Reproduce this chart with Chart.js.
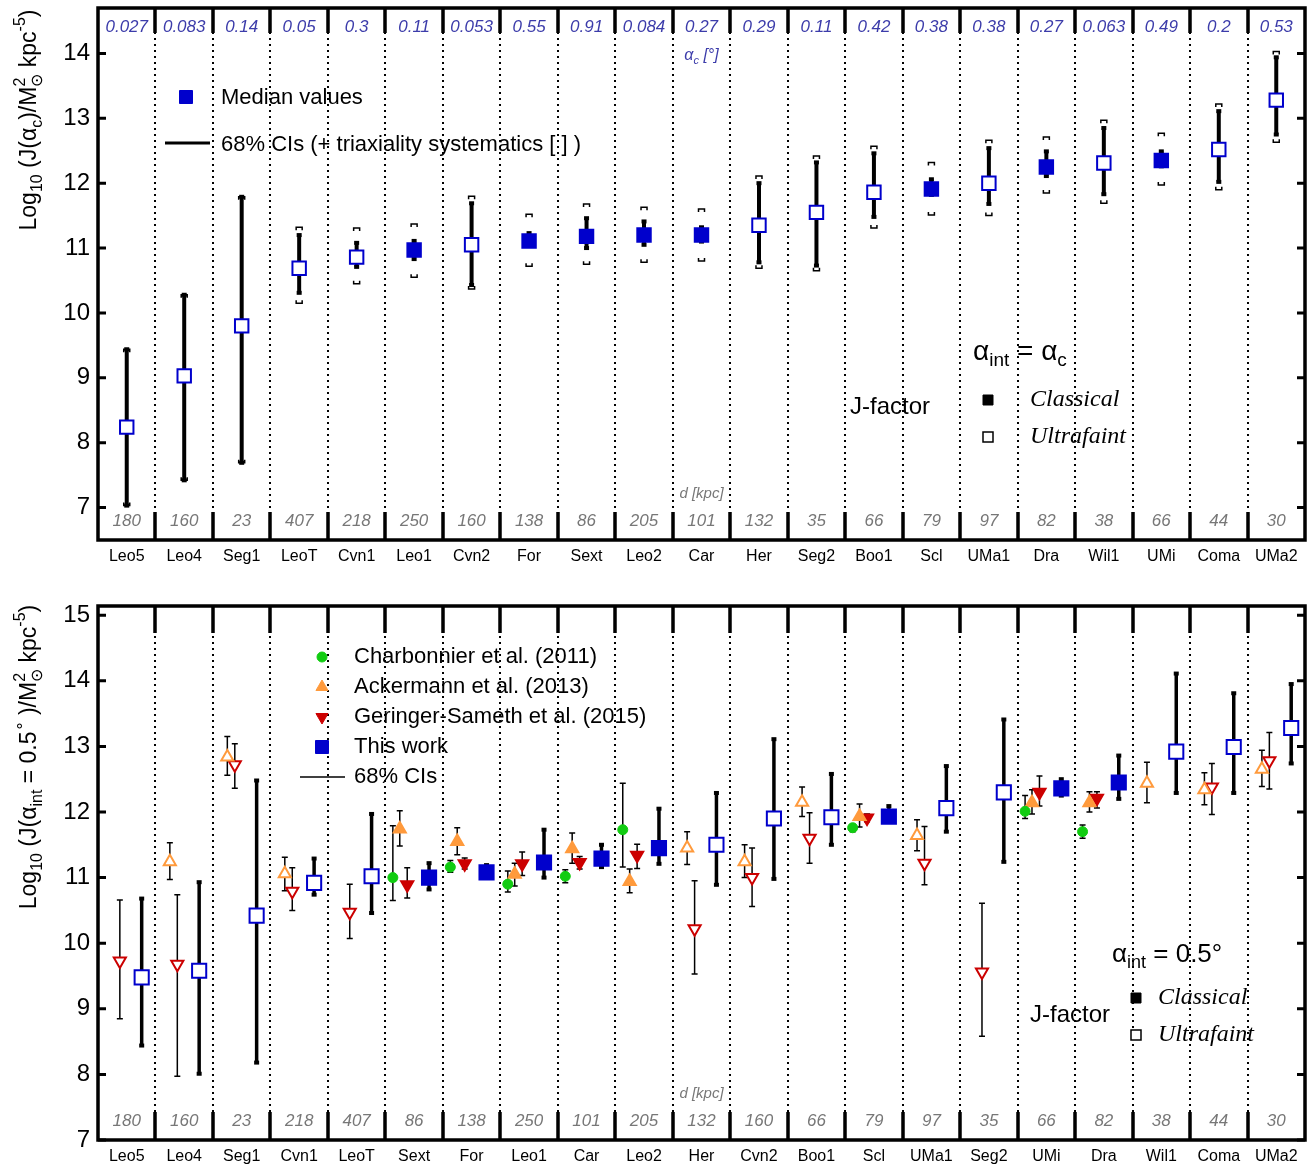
<!DOCTYPE html>
<html>
<head>
<meta charset="utf-8">
<script src="https://cdn.jsdelivr.net/npm/chart.js@4.4.1/dist/chart.umd.min.js"></script>
<style>
  body { margin: 0; background: #fff; }
  #wrap { position: relative; width: 1312px; height: 1165px; }
  canvas { position: absolute; left: 0; }
  #topChart { top: 0; }
  #botChart { top: 580px; }
</style>
</head>
<body>
<div id="wrap">
  <canvas id="topChart" width="1312" height="580"></canvas>
  <canvas id="botChart" width="1312" height="585"></canvas>
</div>
<script>
// ---------- data: upper panel (alpha_int = alpha_c) ----------
var topNames = ['Leo5','Leo4','Seg1','LeoT','Cvn1','Leo1','Cvn2','For','Sext','Leo2','Car','Her','Seg2','Boo1','Scl','UMa1','Dra','Wil1','UMi','Coma','UMa2'];
var alphaC   = ['0.027','0.083','0.14','0.05','0.3','0.11','0.053','0.55','0.91','0.084','0.27','0.29','0.11','0.42','0.38','0.38','0.27','0.063','0.49','0.2','0.53'];
var topDist  = [180,160,23,407,218,250,160,138,86,205,101,132,35,66,79,97,82,38,66,44,30];
var topMed   = [8.24, 9.03, 9.80, 10.69, 10.86, 10.97, 11.05, 11.11, 11.18, 11.20, 11.20, 11.35, 11.55, 11.86, 11.91, 12.00, 12.25, 12.31, 12.35, 12.52, 13.28];
var topLo    = [7.03, 7.42, 7.69, 10.31, 10.71, 10.83, 10.43, 11.05, 11.00, 11.05, 11.10, 10.78, 10.73, 11.48, 11.82, 11.68, 12.11, 11.83, 12.26, 12.02, 12.75];
var topHi    = [9.44, 10.28, 11.79, 11.20, 11.08, 11.11, 11.69, 11.23, 11.46, 11.41, 11.32, 12.00, 12.32, 12.46, 12.06, 12.54, 12.49, 12.85, 12.49, 13.11, 13.94];
var sysLo    = [7.03, 7.42, 7.69, 10.15, 10.45, 10.55, 10.37, 10.72, 10.75, 10.78, 10.80, 10.69, 10.65, 11.31, 11.51, 11.50, 11.85, 11.69, 11.97, 11.90, 12.63];
var sysHi    = [9.44, 10.28, 11.79, 11.32, 11.31, 11.37, 11.80, 11.52, 11.68, 11.63, 11.60, 12.11, 12.42, 12.57, 12.32, 12.66, 12.71, 12.97, 12.77, 13.22, 14.03];

// ---------- data: lower panel (alpha_int = 0.5 deg) ----------
var botNames = ['Leo5','Leo4','Seg1','Cvn1','LeoT','Sext','For','Leo1','Car','Leo2','Her','Cvn2','Boo1','Scl','UMa1','Seg2','UMi','Dra','Wil1','Coma','UMa2'];
var botDist  = [180,160,23,218,407,86,138,250,101,205,132,160,66,79,97,35,66,82,38,44,30];

var charbMed = [null, null, null, null, null, 11.00, 11.16, 10.90, 11.02, 11.73, null, null, null, 11.76, null, null, 12.01, 11.70, null, null, null];
var charbLo  = [null, null, null, null, null, 10.65, 11.08, 10.78, 10.92, 11.16, null, null, null, 11.70, null, null, 11.90, 11.60, null, null, null];
var charbHi  = [null, null, null, null, null, 11.79, 11.26, 11.10, 11.12, 12.44, null, null, null, 11.81, null, null, 12.25, 11.80, null, null, null];

var ackMed = [null, 11.24, 12.84, 11.06, null, 11.74, 11.55, 11.05, 11.44, 10.94, 11.45, 11.24, 12.15, 11.93, 11.64, null, 12.14, 12.14, 12.44, 12.34, 12.65];
var ackLo  = [null, 10.97, 12.56, 10.80, null, 11.48, 11.35, 10.87, 11.22, 10.77, 11.20, 11.00, 11.93, 11.77, 11.41, null, 11.97, 12.00, 12.14, 12.11, 12.39];
var ackHi  = [null, 11.53, 13.15, 11.31, null, 12.02, 11.76, 11.22, 11.68, 11.13, 11.70, 11.50, 12.38, 12.12, 11.88, null, 12.34, 12.31, 12.76, 12.60, 12.94];

var gsMed = [9.73, 9.68, 12.72, 10.79, 10.47, 10.89, 11.21, 11.21, 11.23, 11.34, 10.22, 11.00, 11.60, 11.91, 11.22, 9.56, 12.30, 12.21, null, 12.38, 12.78];
var gsLo  = [8.85, 7.97, 12.36, 10.50, 10.07, 10.69, 11.13, 11.03, 11.13, 11.14, 9.53, 10.56, 11.22, 11.85, 10.89, 8.58, 12.09, 12.06, null, 11.96, 12.35];
var gsHi  = [10.66, 10.74, 13.04, 11.15, 10.90, 11.15, 11.30, 11.39, 11.32, 11.51, 10.95, 11.45, 11.99, 11.97, 11.78, 10.61, 12.55, 12.31, null, 12.74, 13.21];

var twMed = [9.48, 9.58, 10.42, 10.92, 11.02, 11.00, 11.08, 11.23, 11.29, 11.45, 11.50, 11.90, 11.92, 11.93, 12.06, 12.30, 12.36, 12.45, 12.92, 12.99, 13.28];
var twLo  = [8.44, 8.01, 8.18, 10.74, 10.46, 10.82, 11.00, 11.00, 11.16, 11.21, 10.89, 10.98, 11.50, 11.87, 11.70, 11.24, 12.25, 12.20, 12.29, 12.29, 12.74];
var twHi  = [10.68, 10.93, 12.48, 11.29, 11.97, 11.22, 11.19, 11.73, 11.50, 12.05, 12.29, 13.11, 12.58, 12.09, 12.70, 13.41, 12.50, 12.86, 14.11, 13.81, 13.95];

var classical = ['Leo1','For','Sext','Leo2','Car','Scl','Dra','UMi'];
var topYTicks = [7, 8, 9, 10, 11, 12, 13, 14];
var botYTicks = [7, 8, 9, 10, 11, 12, 13, 14, 15];

var BLUE = '#0000cc', GREEN = '#11cc11', ORANGE = '#ff9a3c', RED = '#cc0000';
var SANS = '"Liberation Sans", Arial, sans-serif';
var SERIF = '"Liberation Serif", "Times New Roman", serif';

// build scatter points, dodged inside each galaxy column
function buildPoints(names, med, lo, hi, off, sLo, sHi) {
    var out = [];
    for (var i = 0; i < med.length; i++) {
        if (med[i] == null) continue;
        out.push({
            x: i + off, y: med[i], lo: lo[i], hi: hi[i],
            slo: sLo ? sLo[i] : null, shi: sHi ? sHi[i] : null,
            cls: classical.indexOf(names[i]) >= 0
        });
    }
    return out;
}

function fillFor(color) {
    return function (c) { return c.raw && c.raw.cls ? color : '#ffffff'; };
}

// text with sub / superscripts: parts = [[text, kind]] kind '', 'sub', 'sup', 'supk' (no advance)
function richWidth(ctx, parts, size, family, style) {
    var w = 0;
    parts.forEach(function (p) {
        ctx.font = (style || '') + ' ' + (p[1] ? Math.round(size * 0.68) : size) + 'px ' + family;
        if (p[1] !== 'supk') w += ctx.measureText(p[0]).width;
    });
    return w;
}
function drawRich(ctx, parts, x, y, size, family, style) {
    var cx = x;
    parts.forEach(function (p) {
        var k = p[1];
        ctx.font = (style || '') + ' ' + (k ? Math.round(size * 0.68) : size) + 'px ' + family;
        var dy = k === 'sub' ? size * 0.32 : (k === 'sup' || k === 'supk' ? -size * 0.42 : 0);
        ctx.fillText(p[0], cx, y + dy);
        if (k !== 'supk') cx += ctx.measureText(p[0]).width;
    });
}

function marker(ctx, style, x, y, r, fill, stroke, lw) {
    ctx.save();
    ctx.fillStyle = fill; ctx.strokeStyle = stroke; ctx.lineWidth = lw;
    ctx.beginPath();
    if (style === 'rect') {
        ctx.rect(x - r, y - r, 2 * r, 2 * r);
    } else if (style === 'circle') {
        ctx.arc(x, y, r, 0, Math.PI * 2);
    } else if (style === 'up') {
        ctx.moveTo(x, y - r); ctx.lineTo(x + r * 0.866, y + r * 0.5); ctx.lineTo(x - r * 0.866, y + r * 0.5); ctx.closePath();
    } else {
        ctx.moveTo(x, y + r); ctx.lineTo(x + r * 0.866, y - r * 0.5); ctx.lineTo(x - r * 0.866, y - r * 0.5); ctx.closePath();
    }
    ctx.fill(); ctx.stroke();
    ctx.restore();
}

// error bars (and triaxiality brackets) drawn behind the markers
var errorBars = {
    id: 'errorBars',
    beforeDatasetsDraw: function (chart) {
        var ctx = chart.ctx, yS = chart.scales.y;
        chart.data.datasets.forEach(function (ds, di) {
            var st = ds.errStyle;
            if (!st) return;
            var meta = chart.getDatasetMeta(di);
            ctx.save();
            ctx.strokeStyle = '#000'; ctx.fillStyle = '#000';
            meta.data.forEach(function (el, i) {
                var p = ds.data[i], x = el.x;
                if (p.lo != null) {
                    var yl = yS.getPixelForValue(p.lo), yh = yS.getPixelForValue(p.hi);
                    ctx.lineWidth = st.width;
                    ctx.beginPath(); ctx.moveTo(x, yl); ctx.lineTo(x, yh); ctx.stroke();
                    if (st.thick) {
                        ctx.fillRect(x - st.cap, yl - 2, 2 * st.cap, 4);
                        ctx.fillRect(x - st.cap, yh - 2, 2 * st.cap, 4);
                    } else {
                        ctx.lineWidth = 1.5;
                        ctx.beginPath();
                        ctx.moveTo(x - st.cap, yl); ctx.lineTo(x + st.cap, yl);
                        ctx.moveTo(x - st.cap, yh); ctx.lineTo(x + st.cap, yh);
                        ctx.stroke();
                    }
                }
                if (p.slo != null) {
                    var bl = yS.getPixelForValue(p.slo), bh = yS.getPixelForValue(p.shi);
                    ctx.lineWidth = 1.5;
                    ctx.beginPath();
                    ctx.moveTo(x - 3, bh + 3); ctx.lineTo(x - 3, bh); ctx.lineTo(x + 3, bh); ctx.lineTo(x + 3, bh + 3);
                    ctx.moveTo(x - 3, bl - 3); ctx.lineTo(x - 3, bl); ctx.lineTo(x + 3, bl); ctx.lineTo(x + 3, bl - 3);
                    ctx.stroke();
                }
            });
            ctx.restore();
        });
    }
};

// column separators, inner ticks, per-column labels and frame
var frame = {
    id: 'frame',
    beforeDatasetsDraw: function (chart, args, o) {
        var ctx = chart.ctx, a = chart.chartArea, xS = chart.scales.x, yS = chart.scales.y;
        var n = o.n;
        ctx.save();
        ctx.strokeStyle = '#000';
        ctx.lineWidth = 2;
        ctx.setLineDash([2, 4]);
        for (var i = 0; i < n - 1; i++) {
            var px = Math.round(xS.getPixelForValue(i + 0.5));
            ctx.beginPath(); ctx.moveTo(px, a.top); ctx.lineTo(px, a.bottom); ctx.stroke();
        }
        ctx.setLineDash([]);
        ctx.lineWidth = 3.5;
        for (var j = 0; j < n - 1; j++) {
            var qx = Math.round(xS.getPixelForValue(j + 0.5));
            ctx.beginPath();
            ctx.moveTo(qx, a.top); ctx.lineTo(qx, a.top + o.tickTop);
            ctx.moveTo(qx, a.bottom - o.tickBot); ctx.lineTo(qx, a.bottom);
            ctx.stroke();
        }
        ctx.lineWidth = 3;
        o.yTicks.forEach(function (v) {
            var py = yS.getPixelForValue(v);
            ctx.beginPath();
            ctx.moveTo(a.left, py); ctx.lineTo(a.left + 8, py);
            ctx.moveTo(a.right - 8, py); ctx.lineTo(a.right, py);
            ctx.stroke();
        });
        ctx.textAlign = 'center'; ctx.textBaseline = 'middle';
        if (o.topLabels) {
            ctx.fillStyle = '#3c3caa';
            ctx.font = 'italic 17px ' + SANS;
            o.topLabels.forEach(function (t, k) { ctx.fillText(t, xS.getPixelForValue(k), a.top + 19); });
        }
        ctx.fillStyle = '#777777';
        ctx.font = 'italic 17px ' + SANS;
        o.botLabels.forEach(function (t, k) { ctx.fillText(String(t), xS.getPixelForValue(k), a.bottom - 19); });
        ctx.font = 'italic 15px ' + SANS;
        ctx.fillText('d [kpc]', xS.getPixelForValue(10), a.bottom - 46);
        ctx.restore();
    },
    afterDraw: function (chart) {
        var ctx = chart.ctx, a = chart.chartArea;
        ctx.save();
        ctx.strokeStyle = '#000'; ctx.lineWidth = 3.5;
        ctx.strokeRect(a.left, a.top, a.right - a.left, a.bottom - a.top);
        ctx.restore();
    }
};

function yTitle(ctx, parts, cx, cy) {
    ctx.save();
    ctx.fillStyle = '#000';
    ctx.textBaseline = 'middle'; ctx.textAlign = 'left';
    var w = richWidth(ctx, parts, 23, SANS);
    ctx.translate(cx, cy); ctx.rotate(-Math.PI / 2);
    drawRich(ctx, parts, -w / 2, 0, 23, SANS);
    ctx.restore();
}

function typeKey(ctx, x, yC, yU, tx) {
    marker(ctx, 'rect', x, yC, 5, '#000', '#000', 1);
    marker(ctx, 'rect', x, yU, 5, '#fff', '#000', 1.5);
    ctx.fillStyle = '#000';
    ctx.font = 'italic 24px ' + SERIF;
    ctx.fillText('Classical', tx, yC);
    ctx.fillText('Ultrafaint', tx, yU);
}

var topDecor = {
    id: 'topDecor',
    afterDraw: function (chart) {
        var ctx = chart.ctx, xS = chart.scales.x, a = chart.chartArea;
        yTitle(ctx, [['Log', ''], ['10', 'sub'], [' (J(', ''], ['\u03b1', ''], ['c', 'sub'], [')/M', ''], ['2', 'supk'], ['\u2299', 'sub'], [' kpc', ''], ['-5', 'sup'], [')', '']], 30, 120);
        ctx.save();
        ctx.textBaseline = 'middle'; ctx.textAlign = 'left';
        // alpha_c header
        ctx.fillStyle = '#3c3caa';
        var hp = [['\u03b1', ''], ['c', 'sub'], [' [\u00b0]', '']];
        var hw = richWidth(ctx, hp, 16, SANS, 'italic');
        drawRich(ctx, hp, xS.getPixelForValue(10) - hw / 2, a.top + 48, 16, SANS, 'italic');
        // legend
        marker(ctx, 'rect', 186, 97, 6.5, BLUE, BLUE, 1);
        ctx.fillStyle = '#000';
        ctx.font = '22px ' + SANS;
        ctx.fillText('Median values', 221, 98);
        ctx.strokeStyle = '#000'; ctx.lineWidth = 3;
        ctx.beginPath(); ctx.moveTo(165, 143); ctx.lineTo(210, 143); ctx.stroke();
        ctx.fillText('68% CIs (+ triaxiality systematics [ ] )', 221, 145);
        drawRich(ctx, [['\u03b1', ''], ['int', 'sub'], [' = \u03b1', ''], ['c', 'sub']], 973, 352, 28, SANS);
        ctx.font = '24px ' + SANS;
        ctx.fillText('J-factor', 850, 407);
        typeKey(ctx, 988, 400, 437, 1030);
        ctx.restore();
    }
};

var botDecor = {
    id: 'botDecor',
    afterDraw: function (chart) {
        var ctx = chart.ctx;
        yTitle(ctx, [['Log', ''], ['10', 'sub'], [' (J(', ''], ['\u03b1', ''], ['int', 'sub'], [' = 0.5', ''], ['\u2218', 'sup'], [' )/M', ''], ['2', 'supk'], ['\u2299', 'sub'], [' kpc', ''], ['-5', 'sup'], [')', '']], 30, 177);
        ctx.save();
        ctx.textBaseline = 'middle'; ctx.textAlign = 'left';
        var rows = [
            ['circle', GREEN, 'Charbonnier et al. (2011)'],
            ['up', ORANGE, 'Ackermann et al. (2013)'],
            ['down', RED, 'Geringer-Sameth et al. (2015)'],
            ['rect', BLUE, 'This work']
        ];
        rows.forEach(function (r, k) {
            var y = 77 + 30 * k;
            marker(ctx, r[0], 322, y, r[0] === 'rect' ? 6.5 : (r[0] === 'circle' ? 5 : 7), r[1], r[1], 1);
            ctx.fillStyle = '#000';
            ctx.font = '22px ' + SANS;
            ctx.fillText(r[2], 354, y);
        });
        ctx.strokeStyle = '#000'; ctx.lineWidth = 1.5;
        ctx.beginPath(); ctx.moveTo(300, 197); ctx.lineTo(345, 197); ctx.stroke();
        ctx.fillText('68% CIs', 354, 197);
        drawRich(ctx, [['\u03b1', ''], ['int', 'sub'], [' = 0.5\u00b0', '']], 1112, 375, 26, SANS);
        ctx.font = '24px ' + SANS;
        ctx.fillText('J-factor', 1030, 435);
        typeKey(ctx, 1136, 418, 455, 1158);
        ctx.restore();
    }
};

function xAxis(names, h) {
    return {
        type: 'linear', min: -0.5, max: 20.5,
        afterBuildTicks: function (s) { s.ticks = names.map(function (n, i) { return { value: i }; }); },
        afterFit: function (s) { s.height = h; s.paddingLeft = 0; s.paddingRight = 0; },
        ticks: {
            autoSkip: false, maxRotation: 0, padding: 7, color: '#000',
            font: { family: SANS, size: 16 },
            callback: function (v) { return names[v]; }
        },
        grid: { display: false, drawTicks: false }, border: { display: false }
    };
}
function yAxis(min, max, ticks) {
    return {
        min: min, max: max,
        afterBuildTicks: function (s) { s.ticks = ticks.map(function (v) { return { value: v }; }); },
        afterFit: function (s) { s.width = 98; s.paddingTop = 0; s.paddingBottom = 0; },
        ticks: { padding: 8, color: '#000', font: { family: SANS, size: 24 } },
        grid: { display: false, drawTicks: false }, border: { display: false }
    };
}

// ---------- upper chart ----------
new Chart(document.getElementById('topChart'), {
    type: 'scatter',
    data: {
        datasets: [{
            label: 'Median values',
            data: buildPoints(topNames, topMed, topLo, topHi, 0, sysLo, sysHi),
            pointStyle: 'rect', pointRadius: 9.5,
            backgroundColor: fillFor(BLUE), borderColor: BLUE, borderWidth: 2,
            errStyle: { width: 4, thick: true, cap: 2.5 }
        }]
    },
    options: {
        responsive: false, animation: false, events: [],
        layout: { autoPadding: false, padding: { top: 8, right: 7, left: 0, bottom: 0 } },
        plugins: {
            legend: { display: false }, tooltip: { enabled: false },
            frame: { n: 21, tickTop: 25, tickBot: 28, yTicks: topYTicks, topLabels: alphaC, botLabels: topDist }
        },
        scales: { x: xAxis(topNames, 40), y: yAxis(6.5, 14.7, topYTicks) }
    },
    plugins: [frame, errorBars, topDecor]
});

// ---------- lower chart ----------
new Chart(document.getElementById('botChart'), {
    type: 'scatter',
    data: {
        datasets: [{
            label: 'This work',
            data: buildPoints(botNames, twMed, twLo, twHi, 0.26),
            pointStyle: 'rect', pointRadius: 10,
            backgroundColor: fillFor(BLUE), borderColor: BLUE, borderWidth: 2,
            errStyle: { width: 3.5, thick: true, cap: 2.5 }
        }, {
            label: 'Charbonnier et al. (2011)',
            data: buildPoints(botNames, charbMed, charbLo, charbHi, -0.37),
            pointStyle: 'circle', pointRadius: 5,
            backgroundColor: fillFor(GREEN), borderColor: GREEN, borderWidth: 1,
            errStyle: { width: 1.5, thick: false, cap: 3 }
        }, {
            label: 'Ackermann et al. (2013)',
            data: buildPoints(botNames, ackMed, ackLo, ackHi, -0.25),
            pointStyle: 'triangle', pointRadius: 7,
            backgroundColor: fillFor(ORANGE), borderColor: ORANGE, borderWidth: 2,
            errStyle: { width: 1.5, thick: false, cap: 3 }
        }, {
            label: 'Geringer-Sameth et al. (2015)',
            data: buildPoints(botNames, gsMed, gsLo, gsHi, -0.12),
            pointStyle: 'triangle', rotation: 180, pointRadius: 7,
            backgroundColor: fillFor(RED), borderColor: RED, borderWidth: 2,
            errStyle: { width: 1.5, thick: false, cap: 3 }
        }]
    },
    options: {
        responsive: false, animation: false, events: [],
        layout: { autoPadding: false, padding: { top: 26, right: 7, left: 0, bottom: 0 } },
        plugins: {
            legend: { display: false }, tooltip: { enabled: false },
            frame: { n: 21, tickTop: 27, tickBot: 28, yTicks: botYTicks, botLabels: botDist }
        },
        scales: { x: xAxis(botNames, 25), y: yAxis(7, 15.14, botYTicks) }
    },
    plugins: [frame, errorBars, botDecor]
});
</script>
</body>
</html>
